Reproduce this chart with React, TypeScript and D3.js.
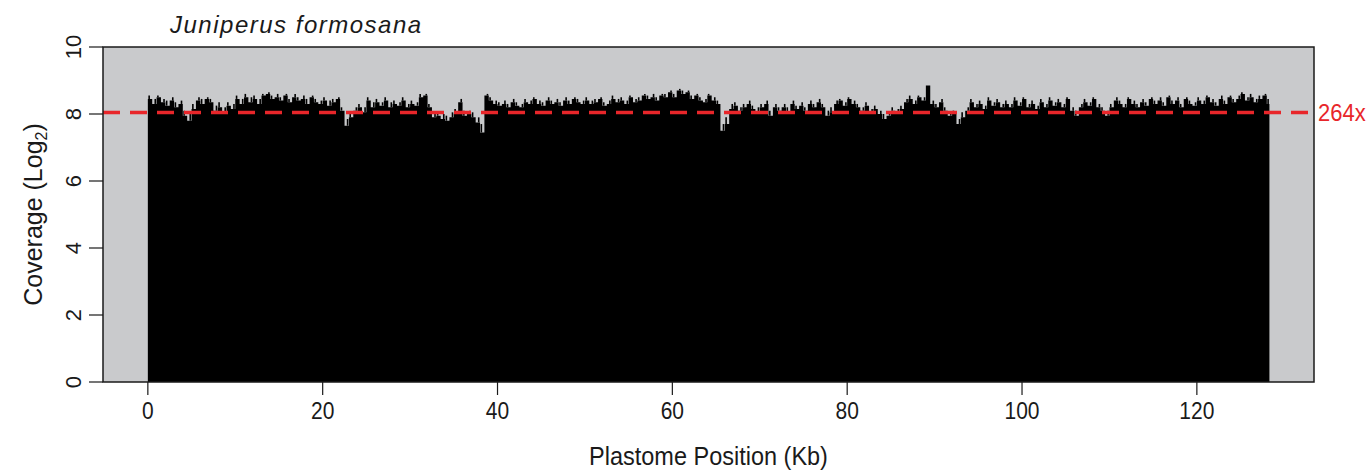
import React from "react";
import * as d3 from "d3";

const TITLE = "Juniperus formosana";
const X_TICKS = [0, 20, 40, 60, 80, 100, 120];
const Y_TICKS = [0, 2, 4, 6, 8, 10];
const MEAN_COVERAGE = 264; // x
const GENOME_END_KB = 128.3;
const BIN_KB = 0.5;

// log2 coverage (typical level), one value per 0.5 kb bin starting at 0 kb
const coverage = [
  // 0-10 kb
  8.45, 8.3, 8.5, 8.35, 8.25, 8.4, 8.2, 8.3, 7.95, 7.8, 8.15, 8.4, 8.3, 8.45, 8.35, 8.1, 8.2, 8.05, 8.25, 8.15,
  // 10-20
  8.45, 8.3, 8.5, 8.35, 8.45, 8.3, 8.55, 8.6, 8.45, 8.5, 8.4, 8.55, 8.35, 8.5, 8.4, 8.45, 8.3, 8.5, 8.35, 8.3,
  // 20-30
  8.4, 8.25, 8.35, 8.45, 8.1, 7.65, 7.9, 8.1, 8.2, 8.05, 8.4, 8.2, 8.35, 8.25, 8.4, 8.2, 8.3, 8.25, 8.4, 8.2,
  // 30-40
  8.3, 8.25, 8.5, 8.55, 8.2, 7.9, 7.95, 7.85, 7.8, 7.9, 8.0, 8.35, 7.95, 8.0, 7.9, 7.75, 7.45, 8.55, 8.4, 8.3,
  // 40-50
  8.25, 8.3, 8.2, 8.35, 8.25, 8.2, 8.35, 8.3, 8.45, 8.3, 8.25, 8.4, 8.3, 8.35, 8.25, 8.4, 8.3, 8.45, 8.35, 8.3,
  // 50-60
  8.4, 8.3, 8.35, 8.45, 8.25, 8.3, 8.45, 8.35, 8.4, 8.3, 8.5, 8.35, 8.4, 8.55, 8.45, 8.5, 8.4, 8.55, 8.5, 8.65,
  // 60-70
  8.5, 8.7, 8.6, 8.65, 8.45, 8.55, 8.4, 8.35, 8.55, 8.4, 8.3, 7.5, 7.7, 8.15, 8.25, 8.1, 8.2, 8.3, 8.15, 8.05,
  // 70-80
  8.2, 8.3, 7.95, 8.2, 8.1, 8.2, 8.05, 8.3, 8.15, 8.25, 8.1, 8.3, 8.2, 8.35, 8.2, 7.95, 8.05, 8.3, 8.4, 8.25,
  // 80-90
  8.45, 8.3, 8.2, 8.1, 8.25, 8.05, 8.15, 8.0, 7.85, 7.95, 8.1, 8.05, 8.15, 8.35, 8.45, 8.3, 8.5, 8.4, 8.85, 8.3,
  // 90-100
  8.2, 8.35, 8.1, 7.95, 8.0, 7.7, 7.9, 8.1, 8.35, 8.2, 8.3, 8.15, 8.4, 8.25, 8.35, 8.2, 8.3, 8.2, 8.4, 8.25,
  // 100-110
  8.45, 8.2, 8.3, 8.15, 8.35, 8.2, 8.4, 8.25, 8.35, 8.2, 8.45, 8.1, 7.95, 8.2, 8.35, 8.25, 8.45, 8.2, 8.1, 7.95,
  // 110-120
  8.2, 8.4, 8.3, 8.2, 8.45, 8.3, 8.2, 8.35, 8.25, 8.45, 8.3, 8.4, 8.25, 8.5, 8.3, 8.4, 8.2, 8.45, 8.3, 8.25,
  // 120-128.3
  8.4, 8.3, 8.5, 8.35, 8.25, 8.45, 8.3, 8.5, 8.35, 8.45, 8.6, 8.4, 8.5, 8.35, 8.45, 8.55, 8.3,
];

// log2 coverage peak within each 0.5 kb bin
const peak = [
  // 0-10 kb
  8.55, 8.45, 8.55, 8.45, 8.4, 8.5, 8.35, 8.4, 8.1, 8.0, 8.3, 8.5, 8.45, 8.5, 8.45, 8.25, 8.35, 8.2, 8.35, 8.3,
  // 10-20
  8.55, 8.45, 8.6, 8.5, 8.55, 8.45, 8.6, 8.65, 8.55, 8.6, 8.5, 8.6, 8.45, 8.6, 8.5, 8.55, 8.45, 8.55, 8.45, 8.4,
  // 20-30
  8.5, 8.4, 8.45, 8.5, 8.2, 7.85, 8.05, 8.2, 8.3, 8.2, 8.5, 8.35, 8.45, 8.35, 8.5, 8.35, 8.4, 8.35, 8.5, 8.3,
  // 30-40
  8.4, 8.35, 8.6, 8.6, 8.3, 8.05, 8.05, 8.0, 7.95, 8.05, 8.15, 8.45, 8.1, 8.1, 8.05, 7.9, 7.7, 8.6, 8.5, 8.4,
  // 40-50
  8.35, 8.4, 8.3, 8.45, 8.35, 8.3, 8.45, 8.4, 8.5, 8.4, 8.35, 8.5, 8.4, 8.45, 8.35, 8.5, 8.4, 8.5, 8.45, 8.4,
  // 50-60
  8.5, 8.4, 8.45, 8.5, 8.35, 8.4, 8.55, 8.45, 8.5, 8.4, 8.55, 8.45, 8.5, 8.6, 8.55, 8.6, 8.5, 8.6, 8.6, 8.7,
  // 60-70
  8.6, 8.75, 8.7, 8.7, 8.55, 8.6, 8.5, 8.45, 8.6, 8.5, 8.4, 7.7, 7.9, 8.3, 8.35, 8.2, 8.3, 8.4, 8.25, 8.2,
  // 70-80
  8.3, 8.4, 8.1, 8.3, 8.2, 8.3, 8.2, 8.4, 8.25, 8.35, 8.2, 8.4, 8.3, 8.45, 8.3, 8.1, 8.2, 8.4, 8.45, 8.35,
  // 80-90
  8.5, 8.4, 8.3, 8.2, 8.35, 8.15, 8.25, 8.1, 8.0, 8.05, 8.2, 8.15, 8.25, 8.45, 8.55, 8.4, 8.55, 8.5, 8.85, 8.4,
  // 90-100
  8.3, 8.45, 8.2, 8.05, 8.1, 7.85, 8.05, 8.2, 8.45, 8.3, 8.4, 8.25, 8.5, 8.35, 8.45, 8.3, 8.4, 8.3, 8.5, 8.35,
  // 100-110
  8.5, 8.3, 8.4, 8.25, 8.45, 8.3, 8.5, 8.35, 8.45, 8.3, 8.5, 8.2, 8.1, 8.3, 8.45, 8.35, 8.5, 8.3, 8.2, 8.1,
  // 110-120
  8.3, 8.5, 8.4, 8.3, 8.5, 8.4, 8.3, 8.45, 8.35, 8.5, 8.4, 8.5, 8.35, 8.55, 8.4, 8.5, 8.3, 8.5, 8.4, 8.35,
  // 120-128.3
  8.5, 8.4, 8.55, 8.45, 8.35, 8.55, 8.4, 8.55, 8.45, 8.55, 8.65, 8.5, 8.6, 8.45, 8.55, 8.6, 8.45,
];

const W = 1372;
const H = 472;
const PL = 103, PR = 1314, PT = 47, PB = 382;
const FONT = "Liberation Sans, Arial, Helvetica, sans-serif";
const INK = "#1a1a1a";

export default function App() {
  const x = d3.scaleLinear().domain([-5.13, 133.4]).range([PL, PR]);
  const y = d3.scaleLinear().domain([0, 10]).range([PB, PT]);

  const pts: [number, number][] = coverage.map((v, i) => [i * BIN_KB, v]);
  pts.push([GENOME_END_KB, coverage[coverage.length - 1]]);

  const area = d3
    .area<[number, number]>()
    .x((d) => x(d[0]))
    .y0(y(0))
    .y1((d) => y(d[1]))
    .curve(d3.curveStepAfter);

  const meanY = y(Math.log2(MEAN_COVERAGE));

  return (
    <svg width={W} height={H} style={{ position: "absolute", left: 0, top: 0, background: "#fff" }} fontFamily={FONT}>
      <rect x={PL} y={PT} width={PR - PL} height={PB - PT} fill="#c9cacc" />
      <path d={area(pts) || ""} fill="#000" />
      {peak.map((p, i) => {
        const kb = Math.min(i * BIN_KB + BIN_KB * (i % 2 === 0 ? 0.3 : 0.7), GENOME_END_KB - 0.1);
        return (
          <line key={i} x1={x(kb)} x2={x(kb)} y1={y(coverage[i])} y2={y(p)} stroke="#000" strokeWidth={1.6} />
        );
      })}
      <line x1={PL} x2={PR} y1={meanY} y2={meanY} stroke="#e8262a" strokeWidth={3.5} strokeDasharray="17 10" />
      <rect x={PL} y={PT} width={PR - PL} height={PB - PT} fill="none" stroke={INK} strokeWidth={1.5} />
      <text transform={`translate(${PR + 4},${meanY + 8}) scale(1,1.12)`} fill="#e8262a" fontSize={22}>{`${MEAN_COVERAGE}x`}</text>

      {X_TICKS.map((t) => (
        <g key={t}>
          <line x1={x(t)} x2={x(t)} y1={PB} y2={PB + 13} stroke={INK} strokeWidth={1.2} />
          <text transform={`translate(${x(t)},${PB + 37}) scale(1,1.18)`} textAnchor="middle" fontSize={21} fill={INK}>{t}</text>
        </g>
      ))}
      {Y_TICKS.map((t) => (
        <g key={t}>
          <line x1={PL - 14} x2={PL} y1={y(t)} y2={y(t)} stroke={INK} strokeWidth={1.2} />
          <text transform={`translate(${PL - 22},${y(t)}) rotate(-90)`} textAnchor="middle" fontSize={22} fill={INK}>{t}</text>
        </g>
      ))}

      <text x={170} y={33} fontSize={24} fontStyle="italic" letterSpacing={1.5} fill={INK}>{TITLE}</text>
      <text transform={`translate(${(PL + PR) / 2},465) scale(1,1.1)`} textAnchor="middle" fontSize={23.5} fill={INK}>Plastome Position (Kb)</text>
      <text transform={`translate(42,${(PT + PB) / 2}) rotate(-90) scale(1,1.05)`} textAnchor="middle" fontSize={25} fill={INK}>
        Coverage (Log<tspan fontSize={16} dy={5}>2</tspan><tspan dy={-5}>)</tspan>
      </text>
    </svg>
  );
}
